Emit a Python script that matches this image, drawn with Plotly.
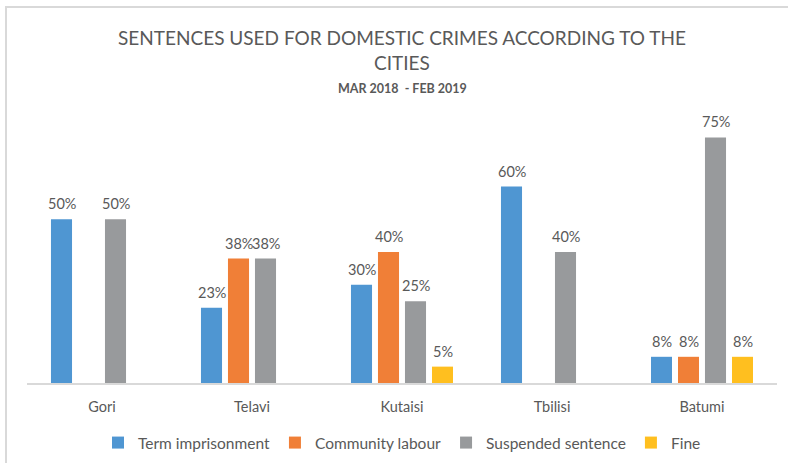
import plotly.graph_objects as go

# Cities on the category axis
cities = ["Gori", "Telavi", "Kutaisi", "Tbilisi", "Batumi"]

# Share of each sentence type per city, in percent (None = not used)
term_imprisonment = [50, 23, 30, 60, 8]
community_labour = [None, 38, 40, None, 8]
suspended_sentence = [50, 38, 25, 40, 75]
fine = [None, None, 5, None, 8]

series = [
    ("Term imprisonment", term_imprisonment, "#4f96d2"),
    ("Community labour", community_labour, "#f07f37"),
    ("Suspended sentence", suspended_sentence, "#989a9c"),
    ("Fine", fine, "#ffbf1f"),
]

TEXT = "#595959"
FONT = "Lato"

W, H = 788, 466
ML, MR, MT, MB = 27, 11, 121, 83
PW, PH = W - ML - MR, H - MT - MB

BARGAP, BARGROUPGAP = 0.28, 0.22


def px_x(p):
    return (p - ML) / PW


def px_y(p):
    return (H - MB - p) / PH


fig = go.Figure()
for name, vals, color in series:
    fig.add_trace(go.Bar(
        name=name,
        x=cities,
        y=vals,
        marker=dict(color=color, line=dict(width=0)),
    ))

# Value labels above each bar, shifted sideways to the bar's slot in its group
slot_px = PW / len(cities) * (1 - BARGAP) / len(series)
for i, (name, vals, color) in enumerate(series):
    shift = (i - (len(series) - 1) / 2) * slot_px
    for city, v in zip(cities, vals):
        if v is None:
            continue
        fig.add_annotation(
            x=city, y=v, text=f"{v}%", showarrow=False,
            xanchor="center", yanchor="bottom", xshift=shift, yshift=5,
            font=dict(family=FONT, size=14.5, color=TEXT),
        )

# Title block
fig.add_annotation(
    text="SENTENCES USED FOR DOMESTIC CRIMES ACCORDING TO THE<br>CITIES",
    xref="paper", yref="paper", x=0.5, y=px_y(50), xanchor="center", yanchor="middle",
    showarrow=False, font=dict(family=FONT, size=19, color=TEXT),
)
fig.add_annotation(
    text="<b>MAR 2018  - FEB 2019</b>",
    xref="paper", yref="paper", x=0.5, y=px_y(88), xanchor="center", yanchor="middle",
    showarrow=False, font=dict(family=FONT, size=12.5, color=TEXT),
)

# Chart frame (top and left edges)
fig.add_shape(type="path", xref="paper", yref="paper",
              path=f"M {px_x(6)} {px_y(463)} L {px_x(6)} {px_y(7)} L {px_x(790)} {px_y(7)}",
              line=dict(color="#d9d9d9", width=2))

fig.update_layout(
    width=W, height=H,
    margin=dict(l=ML, r=MR, t=MT, b=MB, autoexpand=False),
    paper_bgcolor="white", plot_bgcolor="white",
    barmode="group", bargap=BARGAP, bargroupgap=BARGROUPGAP,
    showlegend=True,
    legend=dict(orientation="h", x=0.5, xanchor="center", y=px_y(443), yanchor="middle",
                font=dict(family=FONT, size=15.5, color=TEXT), itemwidth=30,
                traceorder="normal"),
    xaxis=dict(showline=True, linecolor="#d9d9d9", linewidth=1.5, ticks="",
               ticklabelstandoff=10, automargin=False,
               tickfont=dict(family=FONT, size=14.5, color=TEXT), showgrid=False),
    yaxis=dict(visible=False, range=[0, 80], showgrid=False, zeroline=False),
)

fig.write_html("out.html")
